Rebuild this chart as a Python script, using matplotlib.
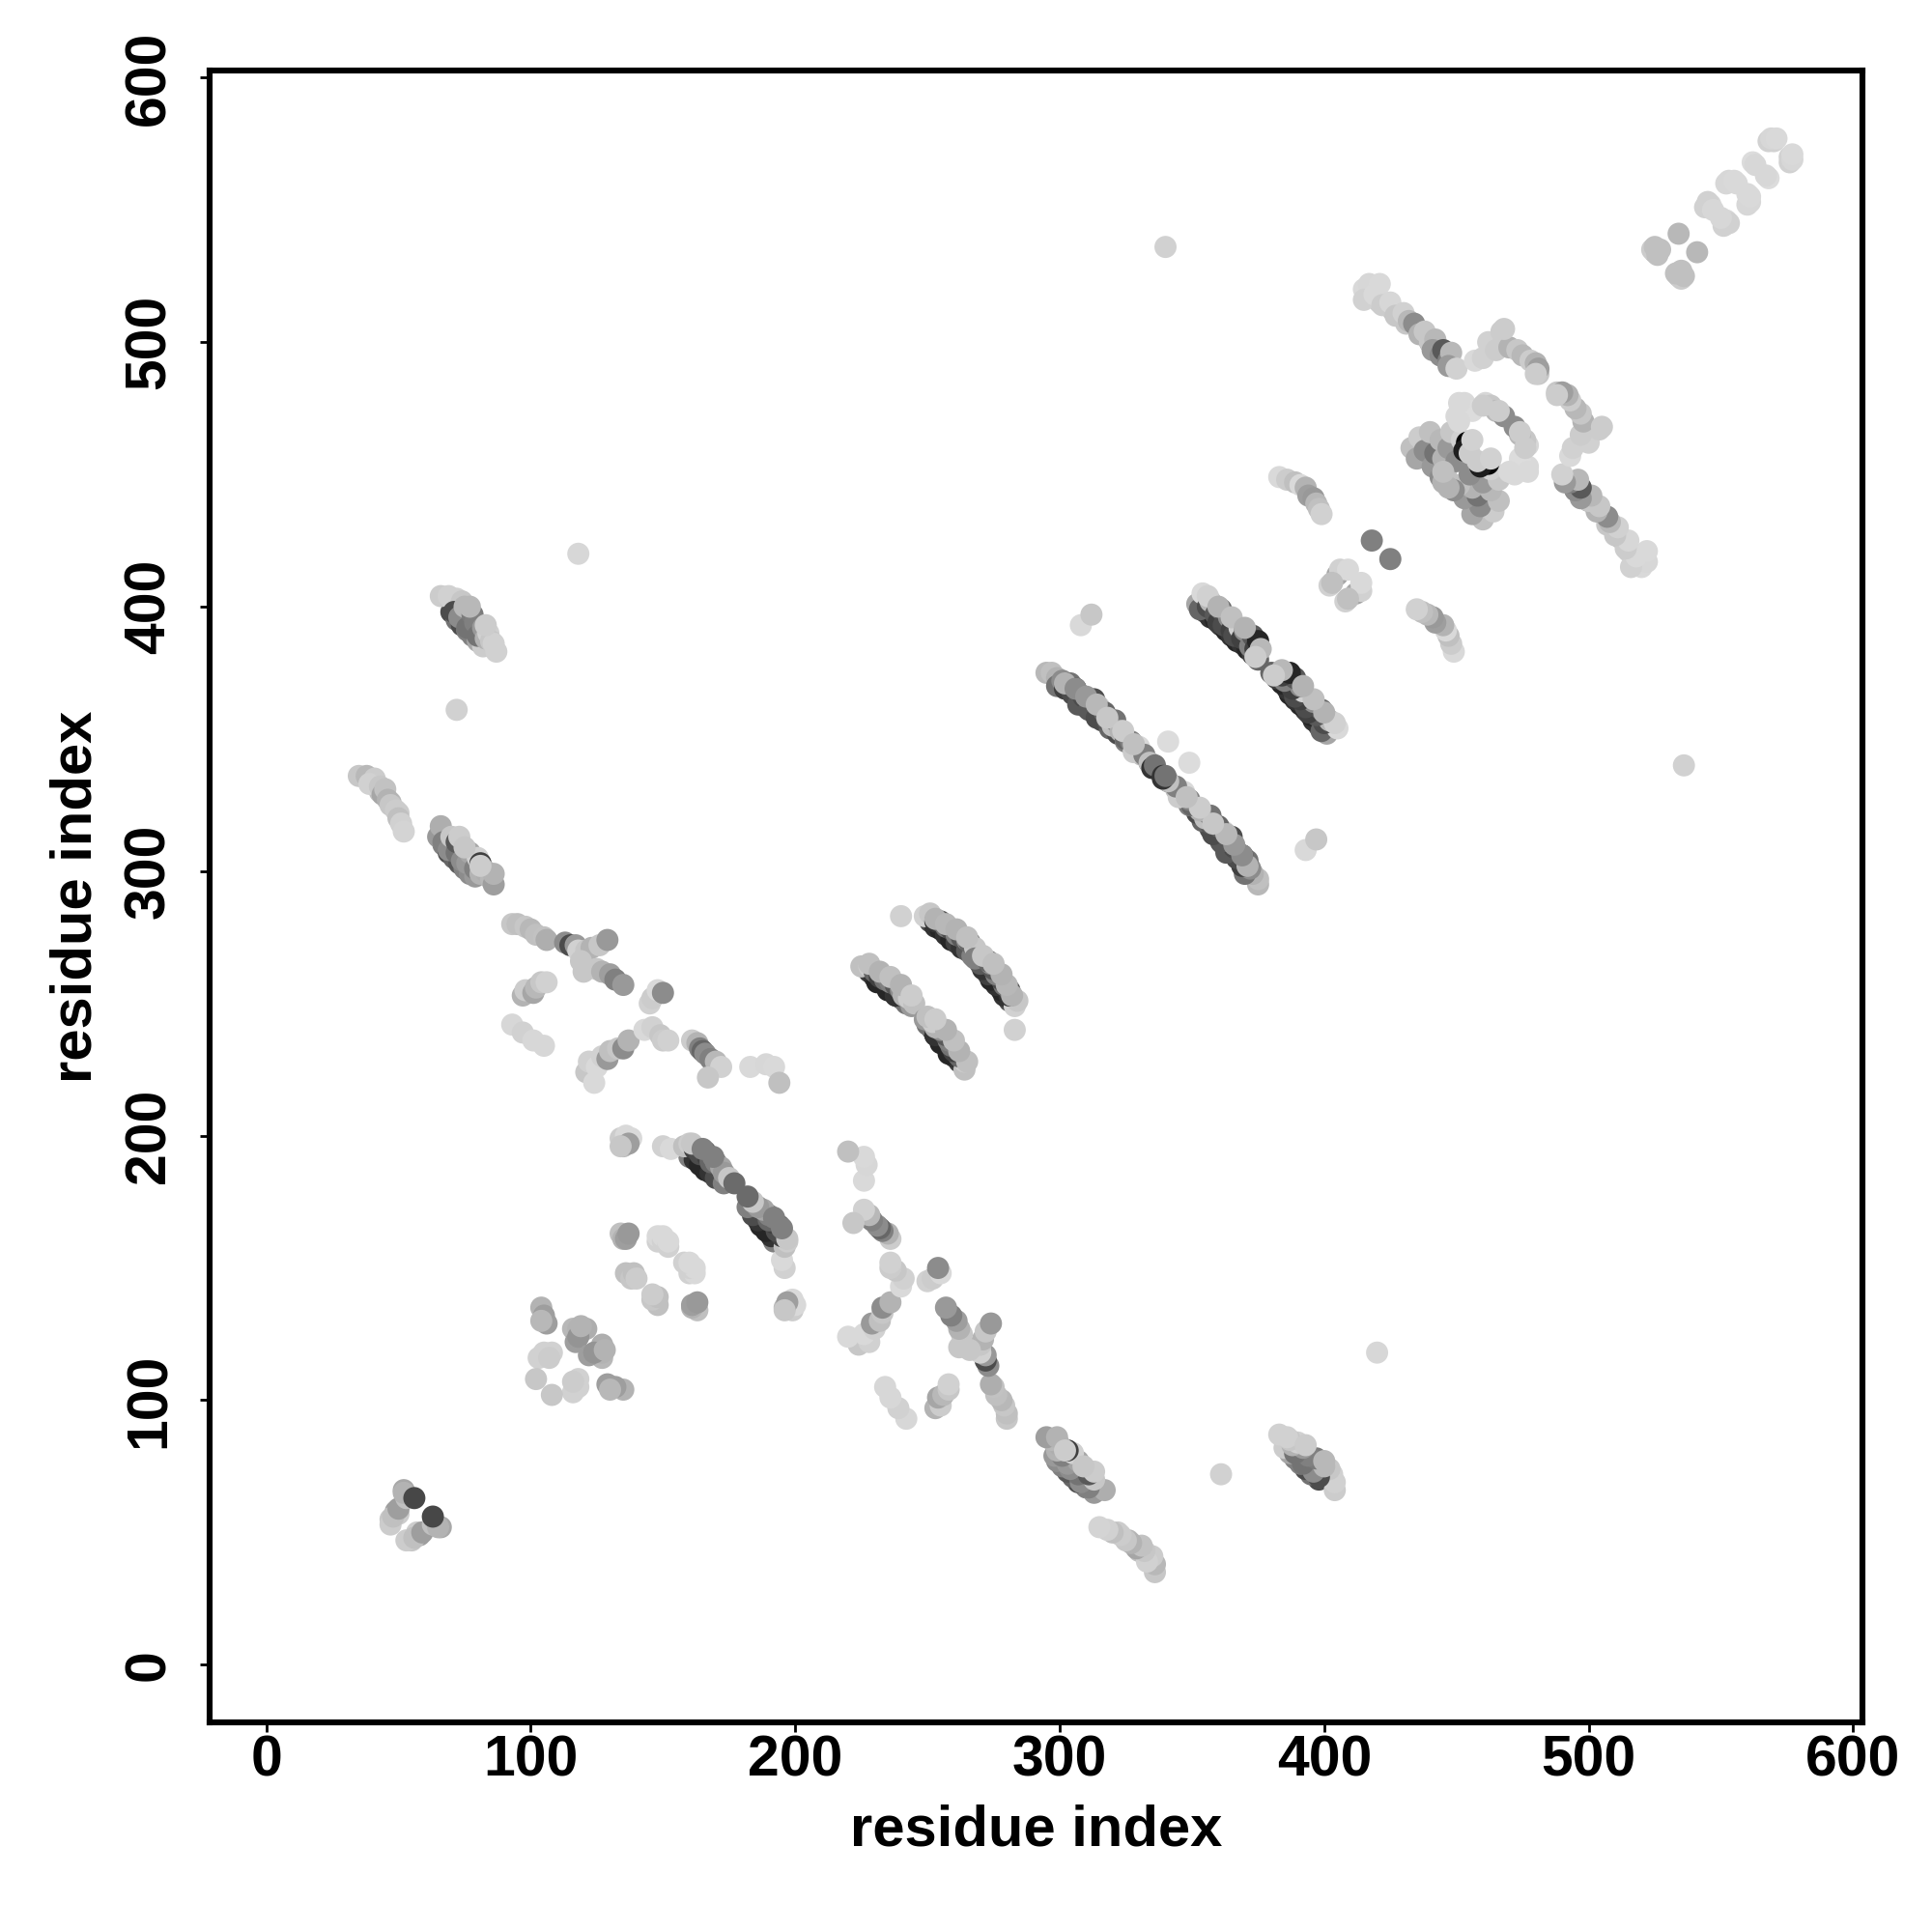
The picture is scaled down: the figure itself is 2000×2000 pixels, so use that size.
import numpy as np
import matplotlib
matplotlib.use('Agg')
import matplotlib.pyplot as plt

plt.rcParams['font.family'] = ['Liberation Sans', 'DejaVu Sans']
plt.rcParams['font.weight'] = 'bold'

# contacts (residue i, residue j, grey level), only one half of the map, the other half is the mirror
# rows that lie underneath the strands come first
under_rows = [(39,334,.8),(43,330,.75),(47,326,.72),(50,322,.8),
              (67,310,.5),(69,307,.3),(71,305,.4),(73,303,.35),(75,301,.5),(77,299,.55),(79,298,.6),
              (70,398,.3),(72,395,.45),(74,393,.3),(76,391,.5),(78,389,.5),(80,387,.65),(82,385,.8),
              (160,192,.5),(162,191,.2),(164,189,.15),(166,187,.15),(168,186,.2),(170,184,.3),(173,182,.5),
              (228,262,.25),(230,260,.2),(232,258,.15),(234,257,.3),(236,255,.15),(238,253,.2),(240,252,.3),(242,250,.45),(244,249,.6),
              (251,281,.3),(253,279,.2),(255,278,.15),(257,276,.2),(259,274,.15),(261,273,.25),(263,271,.2),(265,270,.35),(267,268,.5),
              (299,372,.6),(302,370,.2),(305,367,.2),(307,365,.2),(310,362,.3),(313,360,.2),(316,357,.3),(319,354,.4),(322,352,.3),
              (325,349,.5),(328,346,.7),(331,344,.75),(334,341,.4),(336,339,.2),
              (355,398,.3),(357,396,.2),(359,395,.15),(361,393,.2),(363,391,.15),(365,389,.2),(367,387,.15),(369,386,.2),(371,384,.15),
              (373,382,.25),(375,380,.4),
              (421,515,.8),(426,512,.75),(431,507,.78),(436,504,.6),(440,500,.55),(444,495,.5),(447,492,.7)]

near_50 = [(47,55,.78),(49,58,.62),(50,57,.80),(47,53,.8),(48,56,.75),(50,59,.62),(52,66,.66),(53,63,.75),(52,65,.7),(56,63,.28)]
strand_35 = [(35,336,.78),(38,336,.72),(41,335,.80),(39,333,.82),(43,332,.78),(44,329,.65),(45,331,.76),(46,327,.7),
             (47,325,.78),(49,323,.8),(50,320,.75),(51,318,.82),(52,315,.83)]
strand_65 = [(65,313,.6),(66,317,.68),(67,311,.5),(69,308,.55),(70,313,.78),(72,307,.45),(72,311,.35),(73,313,.80),
             (74,304,.55),(76,303,.6),(77,307,.65),(79,301,.5),(80,305,.82),(81,299,.7),(81,303,.25),(83,300,.68),
             (85,297,.72),(86,295,.62),(86,299,.7),(75,309,.78),(81,302,.8)]
strand_66 = [(66,404,.8),(69,404,.82),(72,403,.82),(74,402,.78),(71,398,.3),(73,396,.55),(75,400,.72),(76,392,.45),
             (78,397,.48),(79,394,.5),(80,389,.45),(82,392,.6),(83,388,.7),(84,390,.82),(85,387,.78),(86,386,.82),
             (87,383,.82),(72,361,.82),(77,400,.72),(83,393,.8)]
strand_93 = [(93,280,.78),(95,280,.75),(98,279,.78),(100,278,.72),(102,276,.75),(105,275,.76),(106,274,.68)]
cross_113 = [(113,273,.55),(115,272,.3),(117,272,.6),(118,270,.82),(121,270,.78),(123,271,.7),(126,272,.78),(129,274,.6),
             (119,266,.78),(120,262,.78),(125,263,.78),(127,262,.7),(130,261,.62),(132,259,.5),(135,257,.6)]
patch_97 = [(97,253,.7),(98,255,.8),(101,254,.65),(102,256,.72),(104,258,.78),(106,258,.82)]
row_93 = [(93,242,.84),(97,239,.82),(101,236,.84),(105,234,.84)]
patch_145 = [(145,250,.82),(146,252,.8),(148,255,.85),(150,254,.55)]
arc_121 = [(121,224,.78),(122,228,.82),(124,220,.85),(125,226,.85),(127,230,.82),(129,229,.6),(130,232,.75),(133,233,.78),
           (135,233,.55),(137,236,.7),(143,240,.85),(146,241,.82),(149,238,.78),(150,236,.8),(152,236,.82)]
arc_161 = [(161,236,.8),(163,235,.7),(164,233,.5),(165,232,.4),(166,231,.55),(168,229,.5),(170,228,.72),(172,226,.82),
           (167,222,.78),(183,226,.85),(189,227,.84),(192,226,.85),(194,220,.75)]
strand_225 = [(231,258,.15),(235,255,.15),(238,253,.2),(225,264,.75),(228,264,.8),(230,262,.4),(232,260,.25),(234,259,.45),
              (236,258,.5),(238,257,.35),(240,255,.55),(241,253,.7),(243,252,.8),(245,250,.75),
              (228,265,.75),(232,262,.7),(236,260,.75),(240,257,.7),(244,253,.8)]
strand_249 = [(249,283,.82),(251,284,.78),(253,281,.2),(255,281,.35),(257,279,.45),(259,278,.3),(261,276,.5),(263,275,.35),
              (265,274,.55),(266,273,.4),(268,271,.78),(240,283,.82),(253,282,.7),(257,280,.72),(261,278,.7),(265,275,.75)]
strand_295 = [(295,375,.72),(297,375,.75),(299,373,.7),(299,370,.45),(301,372,.55),(302,369,.25),(304,371,.45),(305,367,.3),
              (306,369,.2),(307,363,.35),(309,366,.3),(311,364,.22),(311,361,.35),(313,365,.3),(315,362,.82),(314,358,.3),
              (317,360,.4),(318,357,.35),(320,355,.75),(321,357,.45),(323,353,.7),(325,350,.4),(327,349,.5),(328,345,.8),
              (330,347,.85),(332,344,.5),(334,341,.75),(335,339,.2),(336,340,.45),
              (302,371,.7),(306,369,.55),(310,366,.6),(314,363,.72),(318,358,.78),(324,353,.8),(328,348,.75)]
strand_352 = [(352,401,.65),(353,399,.4),(354,405,.85),(356,400,.3),(357,402,.72),(359,397,.35),(360,394,.25),(361,399,.4),
              (362,393,.3),(364,396,.55),(365,391,.25),(366,389,.3),(368,392,.82),(369,388,.25),(370,391,.55),(372,385,.5),
              (373,389,.35),(374,384,.25),(375,387,.15),(376,384,.72),(374,381,.8),
              (356,404,.82),(360,400,.7),(365,396,.75),(370,392,.7)]
strand_415 = [(415,520,.85),(417,522,.84),(415,516,.82),(419,518,.85),(421,522,.85),(422,514,.8),(425,515,.84),(427,510,.78),
              (430,511,.82),(432,508,.72),(434,507,.55),(436,503,.7),(438,504,.78),(440,500,.78),(442,501,.72),(441,497,.6),
              (444,495,.55),(445,497,.35),(447,493,.5),(448,496,.72),(447,491,.6),(450,490,.82)]
arc_457 = [(457,493,.85),(460,494,.82),(462,500,.82),(465,497,.8),(467,504,.8),(470,498,.7),(473,497,.78),(475,495,.72),
           (478,493,.8),(480,492,.7),(481,488,.78),(481,490,.62),(480,488,.8),(468,505,.8)]
ring_433 = [(433,460,.75),(435,456,.65),(436,464,.8),(438,459,.55),(440,466,.75),(441,453,.6),(442,458,.45),(444,463,.72),
            (445,456,.7),(446,451,.75),(447,460,.6),(448,466,.78),(444,449,.55),(445,447,.7),(450,455,.55),(451,445,.75),
            (452,463,.82),(454,462,.03),(453,459,.12),(455,458,.8),(456,463,.82),(450,472,.85),(453,477,.85),(456,474,.86),
            (451,470,.85),(461,477,.84),(463,476,.78),(465,474,.72),(468,472,.55),(460,476,.8),(466,474,.8),(451,477,.85)]
strand_525 = [(525,534,.72),(527,535,.75),(524,535,.8),(525,536,.75),(526,533,.75),(534,541,.72),(544,551,.82),(546,552,.84),
              (545,553,.82),(547,550,.84),(552,560,.84),(553,561,.84),(555,561,.85),(556,560,.85),(562,568,.86),(563,567,.84),
              (568,576,.82),(570,576,.82),(569,577,.84),(571,577,.85)]
patch_383 = [(383,449,.85),(386,448,.8),(389,447,.75),(391,446,.85),(393,445,.7),(394,442,.62),(396,441,.6),(397,439,.72),
             (398,437,.75),(399,435,.82)]
patch_402 = [(402,408,.82),(405,412,.65),(406,414,.82),(409,414,.85),(403,409,.75),(418,425,.5)]
block_102 = [(104,135,.7),(105,132,.62),(106,129,.62),(104,130,.72),(103,116,.82),(105,118,.82),(108,118,.82),(107,116,.8),
             (102,108,.78),(116,127,.72),(118,127,.7),(117,122,.62),(121,127,.68),(118,124,.58),(119,128,.7)]
block_134 = [(134,163,.75),(135,161,.7),(136,161,.62),(137,163,.6),(136,148,.75),(138,146,.78),(139,148,.75),(140,146,.8),
             (148,160,.82),(148,162,.85),(150,160,.82),(150,162,.85),(152,158,.82),(152,160,.85),(134,199,.8),(136,198,.85),
             (136,200,.85),(138,199,.85),(135,196,.72),(137,197,.62),(134,196,.78),(150,196,.82),(153,195,.85)]
strand_158 = [(158,196,.75),(160,197,.8),(162,195,.25),(164,193,.3),(166,194,.4),(167,192,.25),(168,190,.4),(170,190,.5),
              (172,188,.65),(173,186,.6),(175,184,.78),(177,182,.42),(161,197,.78),(165,195,.5),(169,192,.5)]
lone = [(118,420,.84),(340,536,.82),(308,393,.85),(312,397,.78),(341,349,.86)]

groups = [under_rows, near_50, strand_35, strand_65, strand_66, strand_93, cross_113, patch_97, row_93, patch_145, arc_121, arc_161,
          strand_225, strand_249, strand_295, strand_352, strand_415, arc_457, ring_433, strand_525, patch_383, patch_402,
          block_102, block_134, strand_158, lone]

contacts = np.array([c for g in groups for c in g])
res_i = contacts[:, 0]
res_j = contacts[:, 1]
grey = contacts[:, 2]

xticks = [0, 100, 200, 300, 400, 500, 600]
yticks = [0, 100, 200, 300, 400, 500, 600]

fig = plt.figure(figsize=(10, 10), dpi=200)
ax = fig.add_axes([217 / 2000, 217 / 2000, 1711 / 2000, 1710 / 2000])

ax.scatter(np.concatenate([res_i, res_j]), np.concatenate([res_j, res_i]), c=np.concatenate([grey, grey]),
           cmap='gray', vmin=0, vmax=1, s=68, linewidths=0)

ax.set_xlim(-21.4, 603.5)
ax.set_ylim(-21.8, 602.7)
ax.set_xticks(xticks)
ax.set_yticks(yticks)
ax.tick_params(axis='both', length=3.5, width=1, labelsize=21.2)
ax.tick_params(axis='x', pad=1)
ax.tick_params(axis='y', pad=9)
for lab in ax.get_yticklabels():
    lab.set_rotation(90)
    lab.set_va('center')
for s in ax.spines.values():
    s.set_linewidth(2.2)

ax.set_xlabel('residue index', fontsize=21.5, fontweight='bold', labelpad=6)
ax.set_ylabel('residue index', fontsize=21.5, fontweight='bold', labelpad=7.5)

plt.savefig('out.png', dpi=200)
